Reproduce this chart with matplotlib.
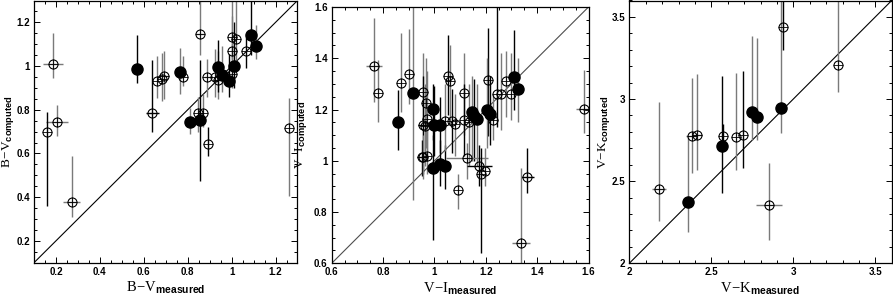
import matplotlib
matplotlib.use('Agg')
from matplotlib import pyplot as plt
from matplotlib.ticker import MultipleLocator

plt.rcParams['mathtext.fontset'] = 'custom'
plt.rcParams['mathtext.rm'] = 'Liberation Serif'
plt.rcParams['mathtext.bf'] = 'Liberation Sans:bold'
plt.rcParams['font.family'] = 'Liberation Sans'

# ---- B-V panel: measured, computed, lower/upper error ends, x error, filled?, grey bar?
bv_meas = [0.185, 0.205, 0.159, 0.271, 0.571, 0.639, 0.662, 0.685, 0.694, 0.763, 0.780,
           0.856, 0.848, 0.869, 0.810, 0.856, 0.894, 0.889, 0.924, 0.939, 0.939, 0.957,
           0.988, 1.010, 1.003, 1.021, 1.003, 1.003, 1.066, 1.088, 1.109, 1.261]
bv_comp = [1.009, 0.742, 0.697, 0.379, 0.985, 0.785, 0.932, 0.940, 0.955, 0.974, 0.951,
           1.145, 0.786, 0.786, 0.744, 0.751, 0.645, 0.951, 0.951, 0.937, 0.997, 0.959,
           0.932, 1.001, 1.133, 1.126, 1.070, 0.964, 1.070, 1.144, 1.092, 0.717]
bv_lo = [0.945, 0.68, 0.36, 0.308, 0.924, 0.70, 0.853, 0.84, 0.85, 0.87, 0.91,
         1.05, 0.70, 0.72, 0.69, 0.474, 0.59, 0.86, 0.86, 0.85, 0.88, 0.88,
         0.86, 0.90, 1.03, 1.00, 0.95, 0.90, 0.99, 1.05, 1.03, 0.406]
bv_hi = [1.15, 0.82, 0.79, 0.588, 1.141, 1.026, 1.045, 1.06, 1.07, 1.083, 1.047,
         1.35, 0.86, 0.87, 0.81, 1.026, 0.72, 1.03, 1.08, 1.07, 1.12, 1.09,
         1.054, 1.20, 1.35, 1.35, 1.23, 1.10, 1.135, 1.35, 1.19, 0.855]
bv_xerr = [0.045, 0.05, 0, 0.04, 0, 0.03, 0, 0.01, 0.02, 0, 0,
           0.02, 0, 0, 0, 0, 0, 0.015, 0, 0, 0, 0,
           0, 0, 0, 0, 0, 0, 0, 0, 0, 0]
bv_fill = [0, 0, 0, 0, 1, 0, 0, 0, 0, 1, 0,
           0, 0, 0, 1, 1, 0, 0, 0, 0, 1, 1,
           1, 1, 0, 0, 0, 0, 0, 1, 1, 0]
bv_grey = [1, 1, 0, 1, 0, 0, 1, 1, 1, 1, 1,
           1, 1, 1, 1, 0, 0, 1, 1, 1, 0, 1,
           0, 0, 1, 1, 1, 1, 0, 0, 1, 1]

# ---- V-I panel
vi_meas = [0.765, 0.782, 0.871, 0.902, 0.860, 0.918, 0.955, 0.966, 0.957, 0.963, 0.970,
           0.993, 0.997, 1.023, 0.953, 0.957, 0.970, 0.993, 1.020, 1.040, 1.042, 1.069,
           1.082, 1.053, 1.059, 1.092, 1.117, 1.114, 1.134, 1.147, 1.156, 1.164, 1.127,
           1.175, 1.182, 1.196, 1.209, 1.205, 1.216, 1.229, 1.245, 1.261, 1.277, 1.299,
           1.309, 1.327, 1.362, 1.339, 1.581]
vi_comp = [1.371, 1.264, 1.305, 1.339, 1.153, 1.264, 1.270, 1.227, 1.140, 1.136, 1.163,
           1.202, 1.140, 1.140, 1.016, 1.016, 1.019, 0.971, 0.988, 0.980, 1.157, 1.157,
           1.144, 1.332, 1.310, 0.886, 1.266, 1.160, 1.153, 1.192, 1.173, 1.162, 1.010,
           0.980, 0.949, 0.962, 1.316, 1.199, 1.182, 1.160, 1.261, 1.261, 1.312, 1.261,
           1.325, 1.280, 0.936, 0.681, 1.203]
vi_lo = [1.231, 1.153, 1.19, 1.22, 1.044, 0.847, 1.10, 1.05, 0.95, 0.98, 1.00,
         1.08, 1.02, 1.03, 0.94, 0.93, 0.95, 0.69, 0.90, 0.89, 1.04, 1.03,
         1.02, 1.18, 1.16, 0.81, 1.10, 1.02, 0.98, 1.00, 1.00, 0.98, 0.93,
         0.90, 0.64, 0.90, 1.095, 1.05, 1.06, 1.08, 1.13, 1.12, 1.17, 1.16,
         1.20, 1.15, 0.875, 0.58, 1.109]
vi_hi = [1.557, 1.394, 1.50, 1.513, 1.277, 1.65, 1.42, 1.40, 1.33, 1.30, 1.35,
         1.30, 1.29, 1.25, 1.08, 1.10, 1.12, 1.10, 1.08, 1.06, 1.30, 1.28,
         1.26, 1.49, 1.45, 0.95, 1.42, 1.30, 1.30, 1.33, 1.32, 1.30, 1.07,
         1.06, 1.05, 1.05, 1.52, 1.40, 1.33, 1.26, 1.65, 1.42, 1.43, 1.42,
         1.51, 1.40, 1.05, 0.972, 1.355]
vi_xerr = [0.03, 0, 0, 0, 0, 0, 0, 0, 0.02, 0, 0,
           0, 0, 0, 0.02, 0, 0, 0, 0, 0, 0, 0,
           0, 0, 0, 0, 0, 0, 0, 0, 0, 0, 0.08,
           0.05, 0, 0, 0, 0, 0, 0, 0, 0, 0, 0,
           0, 0, 0.025, 0.035, 0.03]
vi_fill = [0, 0, 0, 0, 1, 1, 0, 0, 0, 0, 0,
           1, 1, 1, 0, 0, 0, 1, 1, 1, 0, 0,
           0, 0, 0, 0, 0, 0, 0, 1, 1, 1, 0,
           0, 0, 0, 0, 1, 1, 0, 0, 0, 0, 0,
           1, 1, 0, 0, 0]
vi_grey = [1, 1, 1, 1, 0, 1, 1, 1, 0, 1, 1,
           0, 0, 0, 0, 1, 1, 0, 0, 0, 1, 0,
           1, 0, 1, 1, 1, 0, 1, 1, 0, 1, 1,
           0, 0, 1, 0, 1, 0, 1, 0, 1, 1, 1,
           0, 1, 0, 1, 1]

# ---- V-K panel
vk_meas = [2.181, 2.356, 2.380, 2.415, 2.570, 2.567, 2.652, 2.695, 2.746, 2.780, 2.925,
           2.939, 3.271, 2.854]
vk_comp = [2.451, 2.376, 2.776, 2.782, 2.776, 2.715, 2.766, 2.782, 2.924, 2.888, 2.945,
           3.437, 3.205, 2.355]
vk_lo = [2.26, 2.19, 2.55, 2.57, 2.70, 2.43, 2.57, 2.58, 2.75, 2.75, 2.795,
         3.30, 3.04, 2.14]
vk_hi = [2.979, 2.77, 3.128, 3.154, 2.85, 3.14, 3.16, 3.17, 3.386, 3.37, 3.70,
         3.70, 3.70, 2.61]
vk_xerr = [0.04, 0, 0.035, 0.03, 0, 0, 0, 0, 0, 0.03, 0,
           0, 0, 0.08]
vk_fill = [0, 1, 0, 0, 0, 1, 0, 0, 1, 1, 1,
           0, 0, 0]
vk_grey = [1, 1, 1, 1, 0, 0, 1, 0, 1, 1, 1,
           0, 1, 1]

W, H = 893, 298
fig = plt.figure(figsize=(W / 100, H / 100), dpi=100)


def px_axes(l, r, t, b):
    return fig.add_axes([l / W, 1 - b / H, (r - l) / W, (b - t) / H])


def draw(ax, xs, ys, lo, hi, xe, fill, grey):
    for x, y, l, h, e, f, g in zip(xs, ys, lo, hi, xe, fill, grey):
        c = '0.48' if g else 'k'
        ax.errorbar([x], [y], yerr=[[y - l], [h - y]], xerr=[e] if e else None,
                    fmt='none', ecolor=c, elinewidth=1.0, capsize=0, zorder=2)
        if f:
            ax.plot(x, y, 'o', ms=8, mfc='k', mec='k', zorder=4)
        else:
            ax.plot(x, y, 'o', ms=6.5, mfc='none', mec='k', mew=0.8, zorder=4)
            ax.plot(x, y, '+', ms=6.5, color='k', mew=0.6, zorder=4)


def style(ax, lim, major, minor, xlab, ylab, ylx, lcol='k'):
    ax.set_xlim(lim)
    ax.set_ylim(lim)
    ax.plot(lim, lim, color=lcol, lw=0.8, zorder=1)
    ax.xaxis.set_major_locator(MultipleLocator(major))
    ax.yaxis.set_major_locator(MultipleLocator(major))
    ax.xaxis.set_minor_locator(MultipleLocator(minor))
    ax.yaxis.set_minor_locator(MultipleLocator(minor))
    ax.tick_params(which='both', direction='in', top=True, right=True, width=0.7)
    ax.tick_params(which='major', length=4, labelsize=7, pad=3)
    ax.tick_params(which='minor', length=2)
    fmt = plt.FuncFormatter(lambda v, p: '%g' % round(v, 3))
    ax.xaxis.set_major_formatter(fmt)
    ax.yaxis.set_major_formatter(fmt)
    for s in ax.spines.values():
        s.set_linewidth(0.9)
    ax.set_xlabel(xlab, fontsize=10.5)
    ax.set_ylabel(ylab, fontsize=9.5)
    ax.xaxis.set_label_coords(0.5, -0.065)
    ax.yaxis.set_label_coords(ylx, 0.5)


ax1 = px_axes(34, 297.5, 0.5, 262.7)
draw(ax1, bv_meas, bv_comp, bv_lo, bv_hi, bv_xerr, bv_fill, bv_grey)
style(ax1, (0.1, 1.3), 0.2, 0.05,
      r'$\mathrm{B\!-\!V}_{\mathbf{measured}}$', r'$\mathrm{B\!-\!V}_{\mathbf{computed}}$',
      (16 - 34) / 263.5)

ax2 = px_axes(331.7, 588.5, 7, 263.3)
draw(ax2, vi_meas, vi_comp, vi_lo, vi_hi, vi_xerr, vi_fill, vi_grey)
style(ax2, (0.6, 1.6), 0.2, 0.05,
      r'$\mathrm{V\!-\!I}_{\mathbf{measured}}$', r'$\mathrm{V\!-\!I}_{\mathbf{computed}}$',
      (309 - 331.7) / 256.8, lcol='0.3')

ax3 = px_axes(629.3, 891.7, 0.5, 263.3)
draw(ax3, vk_meas, vk_comp, vk_lo, vk_hi, vk_xerr, vk_fill, vk_grey)
style(ax3, (2.0, 3.6), 0.5, 0.1,
      r'$\mathrm{V\!-\!K}_{\mathbf{measured}}$', r'$\mathrm{V\!-\!K}_{\mathbf{computed}}$',
      (612 - 629.3) / 262.4)

for ax in (ax1, ax2, ax3):
    for lab in ax.get_xticklabels() + ax.get_yticklabels():
        lab.set_fontweight('bold')

fig.savefig('out.png', dpi=100)
